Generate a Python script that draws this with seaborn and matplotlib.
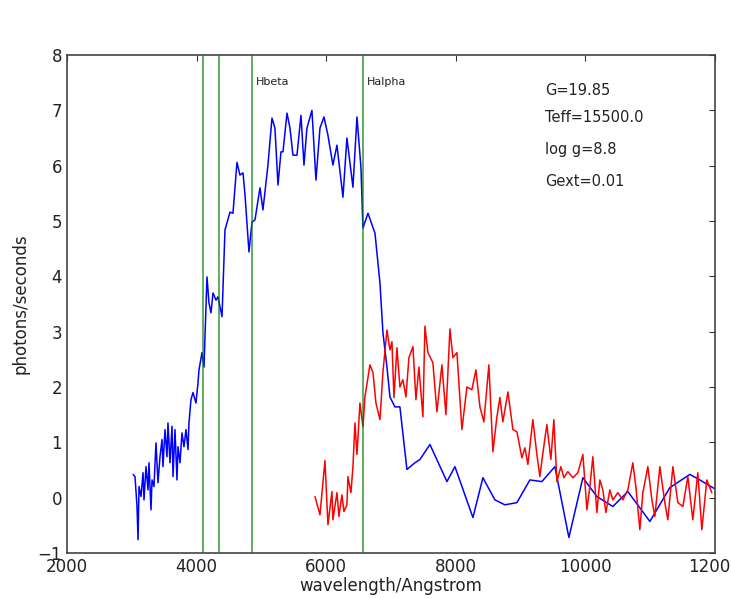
import matplotlib
matplotlib.use("Agg")
import matplotlib.pyplot as plt
import seaborn as sns
import pandas as pd

# ---- data ----
blue_wave = [3020, 3049, 3080, 3096, 3111, 3142, 3173, 3188, 3219, 3250, 3265, 3296,
             3312, 3342, 3373, 3404, 3435, 3466, 3481, 3512, 3543, 3558, 3589, 3620,
             3636, 3666, 3697, 3713, 3744, 3774, 3805, 3836, 3867, 3882, 3913, 3944,
             3990, 4021, 4037, 4083, 4114, 4160, 4191, 4222, 4253, 4299, 4330,
             4392, 4438, 4515, 4561, 4623, 4669, 4716, 4747, 4808, 4855, 4901, 4978,
             5024, 5101, 5163, 5209, 5256, 5302, 5333, 5395, 5441, 5487, 5549, 5611,
             5657, 5703, 5780, 5842, 5904, 5966, 6027, 6104, 6166, 6259, 6320, 6413,
             6475, 6537, 6567, 6645, 6753, 6830, 6876, 6938, 6984, 7061, 7138, 7246,
             7370, 7447, 7601, 7864, 7987, 8265, 8419, 8604, 8758, 8944, 9144, 9329,
             9530, 9746, 9962, 10178, 10425, 10656, 10996, 11304, 11613, 11767, 11968, 12000]
blue_flux = [0.42, 0.38, -0.16, -0.76, 0.20, 0.02, 0.45, -0.04, 0.56, 0.14, 0.63, -0.22,
             0.32, 0.20, 0.99, 0.27, 0.74, 1.05, 0.56, 1.23, 0.74, 1.35, 0.63, 1.29,
             0.38, 1.23, 0.32, 0.92, 0.63, 1.17, 0.92, 1.23, 0.87, 1.35, 1.77, 1.90,
             1.71, 2.07, 2.31, 2.62, 2.36, 3.99, 3.52, 3.34, 3.70, 3.57, 3.63,
             3.27, 4.84, 5.16, 5.14, 6.06, 5.83, 5.87, 5.47, 4.44, 4.98, 5.02, 5.60,
             5.20, 6.01, 6.86, 6.68, 5.65, 6.25, 6.25, 6.95, 6.68, 6.19, 6.19, 6.91,
             6.01, 6.68, 7.00, 5.74, 6.68, 6.88, 6.55, 6.01, 6.37, 5.43, 6.50, 5.61,
             6.88, 5.96, 4.87, 5.14, 4.78, 3.88, 2.98, 2.36, 1.82, 1.64, 1.64, 0.51,
             0.63, 0.69, 0.96, 0.29, 0.56, -0.36, 0.36, -0.04, -0.13, -0.09, 0.32, 0.29,
             0.56, -0.72, 0.36, 0.02, -0.16, 0.11, -0.43, 0.18, 0.42, 0.32, 0.18, 0.16]

red_wave = [5827, 5904, 5981, 6027, 6089, 6104, 6166, 6197, 6243, 6274, 6320, 6336,
            6382, 6413, 6444, 6475, 6521, 6567, 6598, 6675, 6722, 6768, 6830, 6876,
            6938, 6984, 7015, 7046, 7092, 7138, 7184, 7231, 7277, 7339, 7385, 7431,
            7493, 7524, 7570, 7647, 7709, 7786, 7848, 7910, 7956, 8018, 8095, 8172,
            8249, 8311, 8373, 8434, 8511, 8573, 8635, 8681, 8727, 8805, 8882, 8944,
            9021, 9067, 9113, 9190, 9252, 9298, 9345, 9406, 9468, 9514, 9561, 9622,
            9669, 9730, 9808, 9885, 9962, 10024, 10070, 10116, 10178, 10224, 10270, 10317,
            10378, 10425, 10502, 10579, 10656, 10733, 10780, 10841, 10888, 10965, 11027, 11073,
            11150, 11227, 11273, 11351, 11428, 11505, 11582, 11659, 11736, 11798, 11875, 11952]
red_flux = [0.02, -0.31, 0.67, -0.49, 0.11, -0.40, 0.09, -0.34, 0.05, -0.25, -0.13, 0.38,
            0.09, 0.56, 1.35, 0.78, 1.71, 1.28, 1.82, 2.40, 2.26, 1.71, 1.41, 2.27,
            3.03, 2.67, 2.82, 1.81, 2.71, 2.00, 2.13, 1.82, 2.53, 2.73, 1.77, 2.36,
            1.46, 3.10, 2.62, 2.44, 1.55, 2.40, 1.50, 3.05, 2.53, 2.62, 1.23, 2.00,
            1.95, 2.31, 1.64, 1.37, 2.40, 0.83, 1.46, 1.81, 1.37, 1.91, 1.23, 1.19,
            0.72, 0.90, 0.60, 1.41, 0.78, 0.38, 0.81, 1.32, 0.69, 1.41, 0.29, 0.56,
            0.36, 0.47, 0.36, 0.45, 0.78, -0.22, 0.20, 0.74, -0.27, 0.32, 0.14, -0.27,
            0.14, -0.04, 0.09, -0.04, 0.14, 0.63, 0.20, -0.58, 0.09, 0.56, -0.04, -0.34,
            0.56, -0.09, -0.40, 0.56, -0.09, -0.16, 0.38, -0.40, 0.45, -0.58, 0.32, 0.09]

line_waves = [4102, 4340, 4861, 6563]
line_names = {4861: "Hbeta", 6563: "Halpha"}
info_labels = ["G=19.85", "Teff=15500.0", "log g=8.8", "Gext=0.01"]
info_y = [7.36, 6.87, 6.30, 5.72]
info_x = 9380

# ---- plot ----
sns.set_style("white")
plt.rcParams['font.family'] = ['DejaVu Sans']

fig = plt.figure(figsize=(7.31, 5.98), dpi=100)
ax = fig.add_axes([0.0917, 0.0753, 0.8863, 0.8327])

blue_df = pd.DataFrame({"wave": blue_wave, "flux": blue_flux})
red_df = pd.DataFrame({"wave": red_wave, "flux": red_flux})

sns.lineplot(data=blue_df, x="wave", y="flux", color="#0000ff", lw=1.1,
             estimator=None, sort=False, ax=ax)
sns.lineplot(data=red_df, x="wave", y="flux", color="#ff0000", lw=1.1,
             estimator=None, sort=False, ax=ax)

for w in line_waves:
    ax.axvline(w, color="#008000", lw=1.1, alpha=0.8)
    if w in line_names:
        ax.text(w + 60, 7.42, line_names[w], fontsize=8, va="bottom", ha="left",
                color="#222222")

for lab, y in zip(info_labels, info_y):
    ax.text(info_x, y, lab, fontsize=10.5, va="center", ha="left", color="#222222")

ax.set_xlim(2000, 12000)
ax.set_ylim(-1, 8)
ax.set_xticks(range(2000, 12001, 2000))
ax.set_yticks(range(-1, 9))
ax.tick_params(direction="in", top=True, right=True, length=4, width=0.8,
               labelsize=12, colors="#333333", labelcolor="#222222")
for s in ax.spines.values():
    s.set_color("#444444")
    s.set_linewidth(1.2)
ax.set_xlabel("wavelength/Angstrom", fontsize=12, labelpad=1, color="#222222")
ax.set_ylabel("photons/seconds", fontsize=12, labelpad=6, color="#222222")

fig.savefig("out.png", dpi=100)
